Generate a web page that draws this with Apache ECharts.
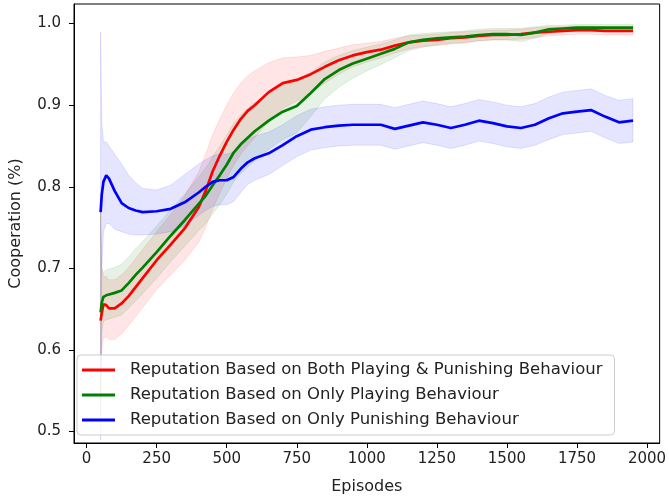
<!DOCTYPE html>
<html>
<head>
<meta charset="utf-8">
<script src="https://cdn.jsdelivr.net/npm/echarts@6/dist/echarts.min.js"></script>
<style>
html,body{margin:0;padding:0;background:#fff;}
#chart{width:669px;height:500px;}
</style>
</head>
<body>
<div id="chart"></div>
<script>
// ---- data ----
var episodes = [50, 54, 60, 70, 80, 100, 125, 150, 175, 200, 250, 300, 350, 400, 425, 450, 475, 500, 525, 550, 575, 600, 650, 700, 750, 800, 850, 900, 950, 1000, 1050, 1100, 1150, 1200, 1250, 1300, 1350, 1400, 1450, 1500, 1550, 1600, 1650, 1700, 1750, 1800, 1850, 1900, 1950];

var bothMean  = [0.636,0.645,0.656,0.655,0.651,0.651,0.657,0.666,0.677,0.688,0.710,0.729,0.749,0.775,0.795,0.819,0.838,0.855,0.870,0.883,0.893,0.900,0.916,0.927,0.931,0.938,0.947,0.955,0.961,0.965,0.968,0.973,0.977,0.979,0.980,0.982,0.983,0.985,0.986,0.986,0.987,0.989,0.990,0.991,0.992,0.992,0.991,0.991,0.991];
var bothUpper = [0.770,0.700,0.690,0.690,0.686,0.686,0.692,0.701,0.712,0.723,0.745,0.766,0.789,0.818,0.840,0.864,0.883,0.900,0.915,0.927,0.936,0.942,0.952,0.958,0.959,0.961,0.966,0.970,0.974,0.976,0.978,0.982,0.985,0.986,0.987,0.989,0.990,0.991,0.992,0.992,0.993,0.995,0.996,0.996,0.997,0.997,0.996,0.996,0.996];
var bothLower = [0.520,0.600,0.615,0.616,0.613,0.613,0.620,0.630,0.641,0.652,0.674,0.692,0.710,0.732,0.750,0.773,0.792,0.810,0.826,0.840,0.851,0.860,0.880,0.896,0.905,0.915,0.927,0.938,0.947,0.953,0.958,0.964,0.969,0.972,0.973,0.975,0.976,0.979,0.980,0.980,0.981,0.983,0.985,0.986,0.987,0.987,0.986,0.986,0.986];

var playMean  = [0.646,0.658,0.665,0.667,0.668,0.670,0.673,0.682,0.692,0.701,0.720,0.740,0.759,0.779,0.789,0.802,0.814,0.827,0.842,0.852,0.860,0.868,0.881,0.892,0.899,0.915,0.932,0.943,0.951,0.957,0.963,0.969,0.977,0.980,0.982,0.983,0.984,0.986,0.987,0.987,0.986,0.989,0.993,0.994,0.995,0.995,0.995,0.995,0.995];
var playUpper = [0.770,0.700,0.695,0.698,0.699,0.701,0.705,0.714,0.724,0.733,0.752,0.772,0.791,0.812,0.823,0.837,0.850,0.863,0.878,0.888,0.896,0.903,0.915,0.924,0.929,0.940,0.953,0.961,0.967,0.971,0.975,0.980,0.986,0.988,0.989,0.990,0.991,0.993,0.994,0.994,0.994,0.996,0.998,0.998,0.999,0.999,0.999,0.999,0.999];
var playLower = [0.540,0.620,0.635,0.637,0.638,0.640,0.643,0.651,0.660,0.669,0.688,0.708,0.727,0.746,0.755,0.767,0.778,0.791,0.806,0.816,0.824,0.832,0.846,0.858,0.866,0.886,0.908,0.922,0.933,0.942,0.950,0.958,0.967,0.971,0.974,0.976,0.977,0.979,0.980,0.980,0.978,0.982,0.988,0.990,0.991,0.991,0.991,0.991,0.991];

var punMean  = [0.769,0.790,0.806,0.814,0.810,0.795,0.780,0.774,0.771,0.769,0.770,0.773,0.781,0.793,0.800,0.806,0.808,0.808,0.812,0.822,0.830,0.835,0.841,0.851,0.862,0.870,0.873,0.875,0.876,0.876,0.876,0.871,0.875,0.879,0.876,0.872,0.876,0.881,0.878,0.874,0.872,0.876,0.884,0.890,0.892,0.894,0.886,0.879,0.881];
var punUpper = [0.990,0.880,0.855,0.855,0.850,0.840,0.828,0.814,0.805,0.798,0.796,0.802,0.815,0.828,0.833,0.838,0.840,0.840,0.843,0.850,0.858,0.862,0.867,0.876,0.887,0.895,0.898,0.900,0.901,0.901,0.901,0.897,0.901,0.905,0.902,0.898,0.902,0.907,0.904,0.900,0.898,0.902,0.910,0.916,0.918,0.920,0.912,0.906,0.908];
var punLower = [0.490,0.700,0.745,0.755,0.755,0.748,0.745,0.742,0.741,0.741,0.742,0.745,0.752,0.765,0.771,0.776,0.778,0.778,0.782,0.793,0.803,0.808,0.815,0.826,0.837,0.845,0.848,0.850,0.851,0.851,0.851,0.846,0.850,0.854,0.851,0.847,0.851,0.856,0.853,0.849,0.847,0.851,0.858,0.864,0.866,0.868,0.860,0.853,0.855];

var seriesNames = [
  'Reputation Based on Both Playing & Punishing Behaviour',
  'Reputation Based on Only Playing Behaviour',
  'Reputation Based on Only Punishing Behaviour'
];
var xTicks = [0, 250, 500, 750, 1000, 1250, 1500, 1750, 2000];
var yTicks = [0.5, 0.6, 0.7, 0.8, 0.9, 1.0];

// ---- build series ----
function pairs(ys) { return episodes.map(function (x, i) { return [x, ys[i]]; }); }

function bandRenderer(up, lo, fill) {
  return function (params, api) {
    var pts = [];
    for (var i = 0; i < episodes.length; i++) pts.push(api.coord([episodes[i], up[i]]));
    for (var j = episodes.length - 1; j >= 0; j--) pts.push(api.coord([episodes[j], lo[j]]));
    return {
      type: 'polygon',
      shape: { points: pts },
      style: { fill: fill, stroke: fill, lineWidth: 1 }
    };
  };
}

var groups = [
  { name: seriesNames[0], mean: bothMean, up: bothUpper, lo: bothLower, color: '#ff0000', fill: 'rgba(255,0,0,0.1)' },
  { name: seriesNames[1], mean: playMean, up: playUpper, lo: playLower, color: '#008000', fill: 'rgba(0,128,0,0.1)' },
  { name: seriesNames[2], mean: punMean,  up: punUpper,  lo: punLower,  color: '#0000ff', fill: 'rgba(0,0,255,0.1)' }
];

var series = [];
groups.forEach(function (g, k) {
  series.push({
    name: g.name, type: 'line', data: pairs(g.mean), showSymbol: false, symbol: 'none',
    lineStyle: { color: g.color, width: 2.7 }, itemStyle: { color: g.color }
  });
  series.push({
    name: 'band' + k, type: 'custom', data: [[1000, 0.9]], encode: { x: 0, y: 1 },
    renderItem: bandRenderer(g.up, g.lo, g.fill), silent: true
  });
});

var txt = '#222';
var font = 'DejaVu Sans';
var chart = echarts.init(document.getElementById('chart'), null, { renderer: 'canvas' });
chart.setOption({
  animation: false,
  backgroundColor: '#fff',
  grid: { left: 69, right: 7, top: 4, bottom: 56, show: true, borderColor: '#000', borderWidth: 1, backgroundColor: 'transparent' },
  xAxis: {
    type: 'value', min: -45, max: 2045,
    name: 'Episodes', nameLocation: 'middle', nameGap: 36,
    nameTextStyle: { fontFamily: font, fontSize: 16, color: txt },
    axisLine: { show: true, onZero: false, lineStyle: { color: '#000', width: 1 } },
    axisTick: { show: true, length: 5, customValues: xTicks, lineStyle: { color: '#000' } },
    axisLabel: { customValues: xTicks, margin: 9, fontFamily: font, fontSize: 15, color: txt,
      formatter: function (v) { return String(v); } },
    splitLine: { show: false }
  },
  yAxis: {
    type: 'value', min: 0.486, max: 1.024,
    name: 'Cooperation (%)', nameLocation: 'middle', nameGap: 50, nameRotate: 90,
    nameTextStyle: { fontFamily: font, fontSize: 16, color: txt },
    axisLine: { show: true, onZero: false, lineStyle: { color: '#000', width: 1 } },
    axisTick: { show: true, length: 5, customValues: yTicks, lineStyle: { color: '#000' } },
    axisLabel: { customValues: yTicks, margin: 13, fontFamily: font, fontSize: 15, color: txt,
      formatter: function (v) { return v.toFixed(1); } },
    splitLine: { show: false }
  },
  legend: {
    data: seriesNames, orient: 'vertical', left: 77, top: 355,
    icon: 'rect', itemWidth: 33, itemHeight: 3, itemGap: 7,
    padding: [6, 12, 6, 5],
    backgroundColor: 'rgba(255,255,255,0.8)', borderColor: '#cccccc', borderWidth: 1, borderRadius: 4,
    textStyle: { fontFamily: font, fontSize: 16.5, color: txt, lineHeight: 18, padding: [0, 0, 0, 10] }
  },
  series: series
});
</script>
</body>
</html>
